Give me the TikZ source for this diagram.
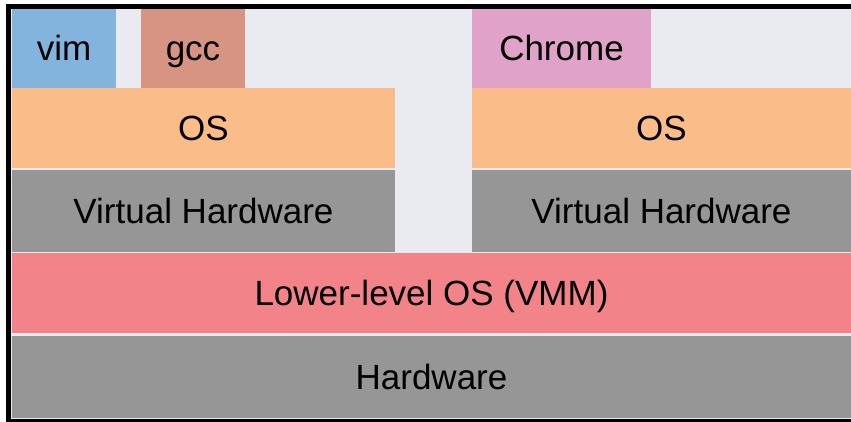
\documentclass[tikz,border=0pt]{standalone}
\usepackage{fontspec}
\setmainfont{Liberation Sans}
\definecolor{bgpanel}{RGB}{234,235,240}
\definecolor{vimblue}{RGB}{131,180,221}
\definecolor{gccred}{RGB}{216,148,131}
\definecolor{chromepink}{RGB}{224,162,200}
\definecolor{osorange}{RGB}{250,189,138}
\definecolor{hwgray}{RGB}{150,150,150}
\definecolor{vmmred}{RGB}{242,131,136}
\newcommand{\layerfont}{\fontsize{35}{42}\selectfont}
\tikzset{
  layer/.style={anchor=north west, inner sep=0pt, outer sep=0pt,
    font=\layerfont, text=black, draw=none,
    text height=25pt, text depth=0pt},
}
\begin{document}
\begin{tikzpicture}[x=1pt, y=-1pt]
  % canvas and black frame (top, left, bottom)
  \fill[white] (0,0) rectangle (851,422);
  \useasboundingbox (0,0) rectangle (851,422);
  \fill[black] (6,4) rectangle (851,422);
  \fill[bgpanel] (11,9) rectangle (851,419);

  % applications
  \node[layer, fill=vimblue, minimum width=104pt, minimum height=79pt] (vim) at (12,9) {vim};
  \node[layer, fill=gccred, minimum width=104pt, minimum height=79pt] (gcc) at (141,9) {gcc};
  \node[layer, fill=chromepink, minimum width=179pt, minimum height=79pt] (chrome) at (472,9) {Chrome};

  % guest operating systems
  \node[layer, fill=osorange, minimum width=383pt, minimum height=80pt] (osl) at (12,88) {OS};
  \node[layer, fill=osorange, minimum width=379pt, minimum height=80pt] (osr) at (472,88) {OS};

  % virtual hardware
  \node[layer, fill=hwgray, minimum width=383pt, minimum height=82pt] (vhl) at (12,170) {Virtual Hardware};
  \node[layer, fill=hwgray, minimum width=379pt, minimum height=82pt] (vhr) at (472,170) {Virtual Hardware};

  % host layers
  \node[layer, fill=vmmred, minimum width=839pt, minimum height=80pt] (vmm) at (12,253) {Lower-level OS (VMM)};
  \node[layer, fill=hwgray, minimum width=839pt, minimum height=82pt] (hw) at (12,336) {Hardware};
\end{tikzpicture}
\end{document}
